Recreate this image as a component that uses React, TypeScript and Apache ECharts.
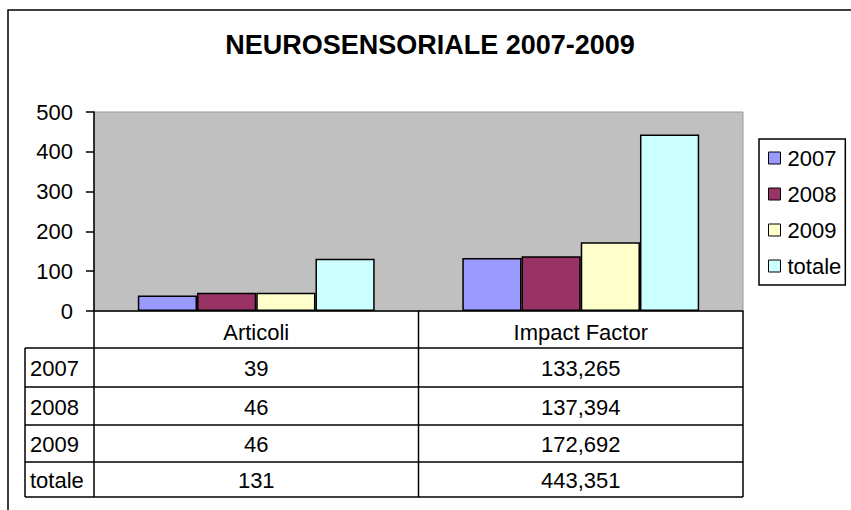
import React, { useEffect, useRef } from "react";
import * as echarts from "echarts";

const categories = ["Articoli", "Impact Factor"];
const seriesNames = ["2007", "2008", "2009", "totale"];
const values2007 = [39, 133.265];
const values2008 = [46, 137.394];
const values2009 = [46, 172.692];
const valuesTotale = [131, 443.351];
const tableText2007 = ["39", "133,265"];
const tableText2008 = ["46", "137,394"];
const tableText2009 = ["46", "172,692"];
const tableTextTotale = ["131", "443,351"];
const colors = ["#9999FF", "#993366", "#FFFFCC", "#CCFFFF"];
const title = "NEUROSENSORIALE 2007-2009";

const FONT = "'Liberation Sans', Arial, sans-serif";
const FS = 22;

export default function App() {
  const ref = useRef<HTMLDivElement>(null);
  useEffect(() => {
    if (!ref.current) return;
    const chart = echarts.init(ref.current, null, { renderer: "svg" });
    const gl = 94, gt = 112, gw = 649, gh = 199;
    const gb = gt + gh; // 311
    const rowTops = [348, 387, 425, 462, 497];
    const tableLeft = 25;
    const allVals = [values2007, values2008, values2009, valuesTotale];
    const allText = [tableText2007, tableText2008, tableText2009, tableTextTotale];
    const colW = gw / categories.length;

    const graphics: any[] = [];
    graphics.push({
      type: "rect",
      shape: { x: 8, y: 10, width: 1000, height: 1000 },
      style: { fill: "none", stroke: "#000", lineWidth: 1.5 },
      silent: true,
    });
    graphics.push({
      type: "text",
      x: 430,
      y: 45,
      style: {
        text: title,
        font: `bold 27px ${FONT}`,
        fill: "#000",
        align: "center",
        verticalAlign: "middle",
      },
    });
    const vx = [gl, gl + colW, gl + gw];
    vx.forEach((x) => {
      graphics.push({
        type: "line",
        shape: { x1: x, y1: gb, x2: x, y2: rowTops[4] },
        style: { stroke: "#000", lineWidth: 1.5 },
      });
    });
    graphics.push({
      type: "line",
      shape: { x1: tableLeft, y1: rowTops[0], x2: tableLeft, y2: rowTops[4] },
      style: { stroke: "#000", lineWidth: 1.5 },
    });
    rowTops.forEach((y) => {
      graphics.push({
        type: "line",
        shape: { x1: tableLeft, y1: y, x2: gl + gw, y2: y },
        style: { stroke: "#000", lineWidth: 1.5 },
      });
    });
    seriesNames.forEach((name, r) => {
      const cy = (rowTops[r] + rowTops[r + 1]) / 2 + 1;
      graphics.push({
        type: "text",
        x: tableLeft + 5,
        y: cy,
        style: { text: name, font: `${FS}px ${FONT}`, fill: "#000", align: "left", verticalAlign: "middle" },
      });
      categories.forEach((c, ci) => {
        graphics.push({
          type: "text",
          x: gl + colW * (ci + 0.5),
          y: cy,
          style: { text: allText[r][ci], font: `${FS}px ${FONT}`, fill: "#000", align: "center", verticalAlign: "middle" },
        });
      });
    });

    chart.setOption({
      animation: false,
      backgroundColor: "#fff",
      textStyle: { fontFamily: FONT },
      grid: {
        left: gl,
        top: gt,
        width: gw,
        height: gh,
        show: true,
        backgroundColor: "#C0C0C0",
        borderColor: "#999",
        borderWidth: 1,
      },
      legend: {
        orient: "vertical",
        left: 759,
        top: 139,
        width: 91,
        data: seriesNames,
        icon: "rect",
        itemWidth: 12,
        itemHeight: 12,
        itemGap: 14,
        padding: [8, 4, 8, 9],
        borderColor: "#000",
        borderWidth: 1.5,
        itemStyle: { borderColor: "#000", borderWidth: 1 },
        textStyle: { fontSize: FS, color: "#000", fontFamily: FONT, padding: [0, 0, 0, 2] },
      },
      xAxis: {
        type: "category",
        data: categories,
        axisLine: { lineStyle: { color: "#000", width: 1.5 } },
        axisTick: { show: false },
        axisLabel: { fontSize: FS, color: "#000", margin: 10 },
      },
      yAxis: {
        type: "value",
        min: 0,
        max: 500,
        interval: 100,
        axisLine: { show: true, lineStyle: { color: "#000", width: 1.5 } },
        axisTick: { show: true, length: 8, lineStyle: { color: "#000", width: 1.5 } },
        axisLabel: { fontSize: FS, color: "#000", margin: 21 },
        splitLine: { show: false },
      },
      series: seriesNames.map((name, i) => ({
        name,
        type: "bar",
        data: allVals[i],
        barGap: "0%",
        barCategoryGap: "27%",
        itemStyle: { color: colors[i], borderColor: "#000", borderWidth: 1.5 },
      })),
      graphic: graphics,
    });
    return () => chart.dispose();
  }, []);
  return (
    <div
      ref={ref}
      style={{ position: "fixed", left: 0, top: 0, width: 851, height: 510, background: "#fff" }}
    />
  );
}
